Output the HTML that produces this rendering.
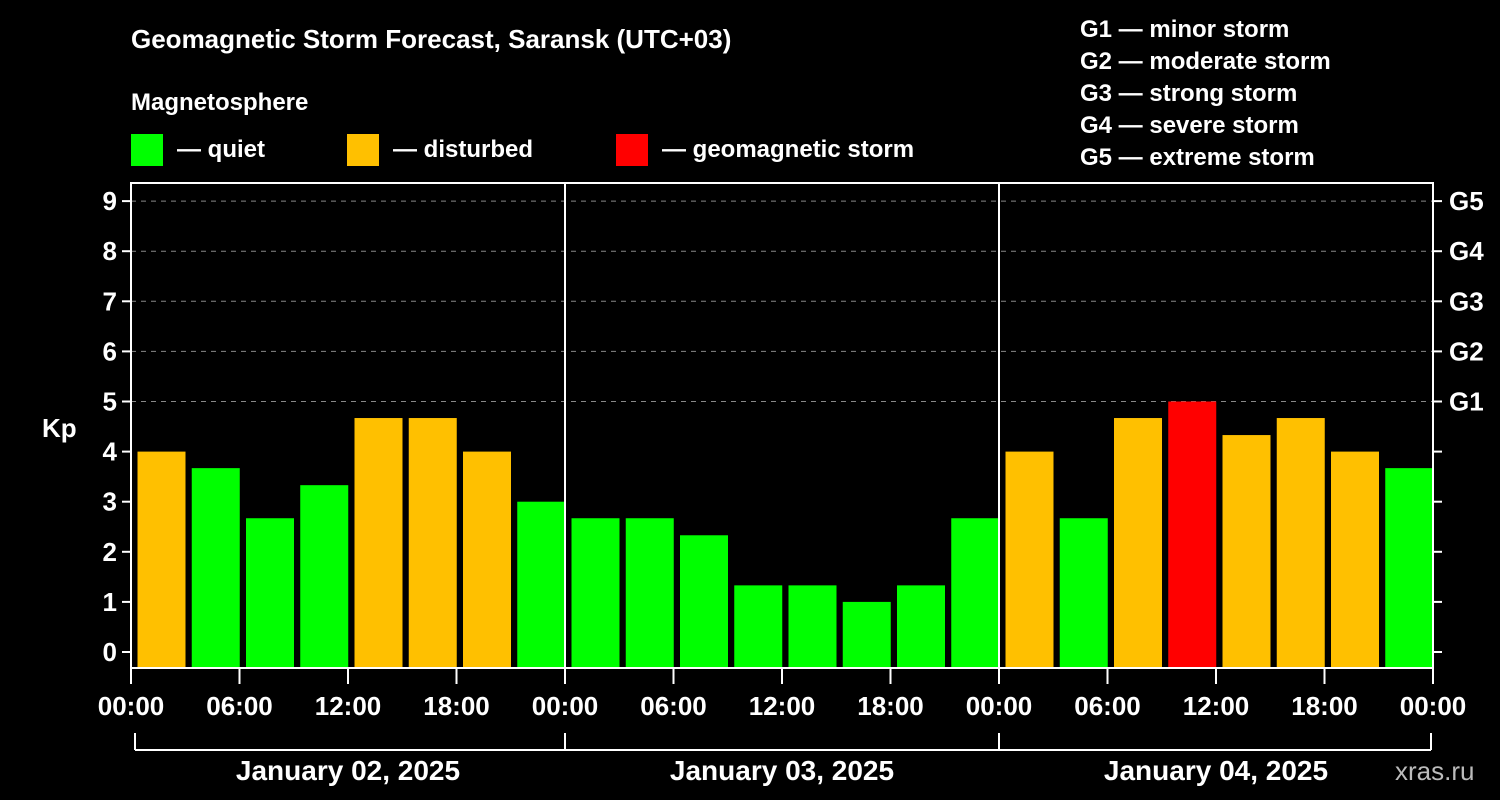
<!DOCTYPE html>
<html><head><meta charset="utf-8"><style>
html,body{margin:0;padding:0;background:#000;}
svg{display:block;font-family:"Liberation Sans",Arial,sans-serif;font-weight:bold;}
</style></head><body>
<svg id="chart" width="1500" height="800" viewBox="0 0 1500 800" xmlns="http://www.w3.org/2000/svg">
<rect width="1500" height="800" fill="#000"/>
<text x="131" y="48" fill="#fff" font-size="26">Geomagnetic Storm Forecast, Saransk (UTC+03)</text>
<text x="131" y="110" fill="#fff" font-size="24">Magnetosphere</text>
<g><rect x="131" y="134" width="32" height="32" fill="#00ff00"/><text x="177" y="157" fill="#fff" font-size="24">— quiet</text></g>
<g><rect x="347" y="134" width="32" height="32" fill="#ffc000"/><text x="393" y="157" fill="#fff" font-size="24">— disturbed</text></g>
<g><rect x="616" y="134" width="32" height="32" fill="#ff0000"/><text x="662" y="157" fill="#fff" font-size="24">— geomagnetic storm</text></g>
<g fill="#fff" font-size="24">
<text x="1080" y="37">G1 — minor storm</text>
<text x="1080" y="69">G2 — moderate storm</text>
<text x="1080" y="101">G3 — strong storm</text>
<text x="1080" y="133">G4 — severe storm</text>
<text x="1080" y="165">G5 — extreme storm</text>
</g>
<g id="grid"></g><g id="bars"></g><g id="axes"></g>
<text x="42" y="437" fill="#fff" font-size="26">Kp</text>
<text x="1395" y="780" fill="#bbb" font-size="26" font-weight="normal">xras.ru</text>
</svg>
<script>
const kpValues=[4,3.67,2.67,3.33,4.67,4.67,4,3, 2.67,2.67,2.33,1.33,1.33,1,1.33,2.67, 4,2.67,4.67,5,4.33,4.67,4,3.67];
const hourLabels=["00:00","06:00","12:00","18:00"];
const dayLabels=["January 02, 2025","January 03, 2025","January 04, 2025"];
const gLabels=["G1","G2","G3","G4","G5"];
const NS="http://www.w3.org/2000/svg";
const L=131,R=1433,T=183,B=668,Y0=652,PU=50.1;
const y=v=>Y0-v*PU;
const slot=(R-L)/kpValues.length;
const x=i=>L+i*slot;
function mk(tag,attrs,parent,txt){const e=document.createElementNS(NS,tag);for(const k in attrs)e.setAttribute(k,attrs[k]);if(txt!==undefined)e.textContent=txt;parent.appendChild(e);return e;}
const grid=document.getElementById('grid'),bars=document.getElementById('bars'),axes=document.getElementById('axes');
for(let k=5;k<=9;k++){const g=mk('line',{x1:L,x2:R,y1:y(k),y2:y(k),stroke:'#888','stroke-width':1,'stroke-dasharray':'5,5'},grid);

}
kpValues.forEach((v,i)=>{const c=v>=5?'#ff0000':(v>=4?'#ffc000':'#00ff00');
const r=mk('rect',{x:x(i)+6.5,y:y(v),width:48,height:B-y(v),fill:c},bars);

});
mk('rect',{x:L,y:T,width:R-L,height:B-T,fill:'none',stroke:'#fff','stroke-width':2},axes);
const dayW=(R-L)/dayLabels.length;
for(let d=1;d<dayLabels.length;d++){mk('line',{x1:L+d*dayW,x2:L+d*dayW,y1:T,y2:B,stroke:'#fff','stroke-width':2},axes);}
for(let k=0;k<=9;k++){
mk('line',{x1:L-9,x2:L,y1:y(k),y2:y(k),stroke:'#fff','stroke-width':2},axes);
mk('line',{x1:R,x2:R+9,y1:y(k),y2:y(k),stroke:'#fff','stroke-width':2},axes);
const t=mk('text',{x:L-14,y:y(k)+9,fill:'#fff','font-size':26,'text-anchor':'end'},axes,String(k));

}
gLabels.forEach((g,i)=>{const t=mk('text',{x:R+16,y:y(5+i)+9,fill:'#fff','font-size':26},axes,g);

});
const nT=dayLabels.length*4;
for(let j=0;j<=nT;j++){const xx=L+j*(R-L)/nT;
mk('line',{x1:xx,x2:xx,y1:B,y2:B+16,stroke:'#fff','stroke-width':2},axes);
const t=mk('text',{x:xx,y:715,fill:'#fff','font-size':26,'text-anchor':'middle'},axes,hourLabels[j%4]);

}
mk('line',{x1:L+4,x2:R-2,y1:750,y2:750,stroke:'#fff','stroke-width':2},axes);
for(let d=0;d<=dayLabels.length;d++){const xx=Math.min(Math.max(L+d*dayW,L+4),R-2);mk('line',{x1:xx,x2:xx,y1:733,y2:750,stroke:'#fff','stroke-width':2},axes);}
dayLabels.forEach((s,d)=>{const t=mk('text',{x:L+(d+0.5)*dayW,y:780,fill:'#fff','font-size':28,'text-anchor':'middle'},axes,s);

});
</script>
</body></html>
